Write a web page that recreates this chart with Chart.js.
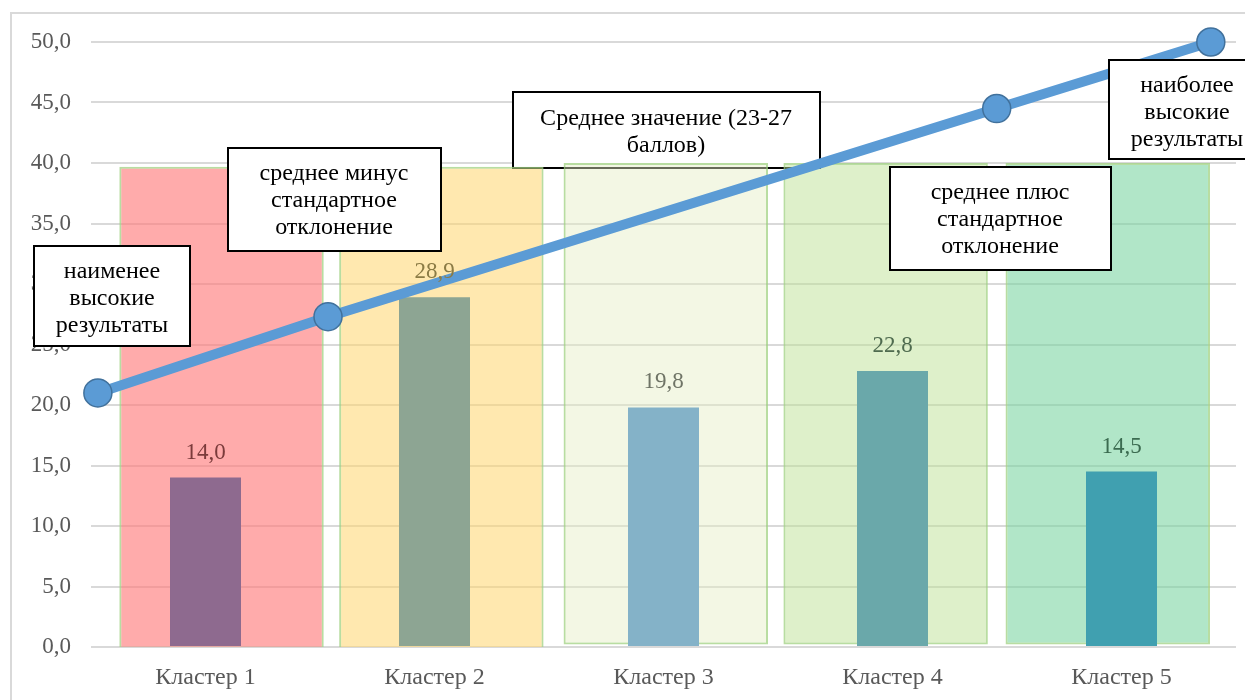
<!DOCTYPE html>
<html>
<head>
<meta charset="utf-8">
<script src="https://cdn.jsdelivr.net/npm/chart.js@4/dist/chart.umd.min.js"></script>
<style>
  html, body { margin: 0; padding: 0; background: #fff; }
  #wrap { position: relative; width: 1245px; height: 700px; }
</style>
</head>
<body>
<div id="wrap"><canvas id="c"></canvas></div>
<script>
// Категории и значения
const clusters = ['Кластер 1', 'Кластер 2', 'Кластер 3', 'Кластер 4', 'Кластер 5'];
const clusterValues = [14.0, 28.9, 19.8, 22.8, 14.5];

// фоновые прямоугольники (диапазоны по оси Y) и их центры по X (в единицах категорий)
const zoneX = [0.07, 1.03, 2.01, 2.97, 3.94];
const zoneLow = [-0.15, -0.2, 0.2, 0.2, 0.2];
const zoneHigh = [39.7, 39.7, 40.0, 40.0, 40.0];

// линия уровней
const levelX = [-0.47, 0.535, 3.455, 4.39];
const levelY = [21.0, 27.3, 44.5, 50.0];

// подписи уровней
const notes = [
  ['наименее', 'высокие', 'результаты'],
  ['среднее минус', 'стандартное', 'отклонение'],
  ['Среднее значение (23-27', 'баллов)'],
  ['среднее плюс', 'стандартное', 'отклонение'],
  ['наиболее', 'высокие', 'результаты']
];

const yTicks = [0, 5, 10, 15, 20, 25, 30, 35, 40, 45, 50];

const zoneColors = ['rgba(255,120,120,0.62)', 'rgba(255,214,110,0.55)', 'rgba(228,238,196,0.45)', 'rgba(190,226,150,0.5)', 'rgba(120,212,160,0.58)'];
const barColors = ['#8E6A8F', '#8DA593', '#84B2C8', '#6AA8AA', '#40A0B0'];
const labelColors = ['#7B3B3B', '#8B7B45', '#6F7466', '#4F6B4F', '#3B6B50'];

const serif = "'Liberation Serif', 'DejaVu Serif', serif";
const fmt = v => v.toFixed(1).replace('.', ',');

// положение рамок с подписями (пиксели)
const noteBoxes = [
  { x: 34, y: 246, w: 156, h: 100, cx: 112, lines: [272, 299, 326] },
  { x: 228, y: 148, w: 213, h: 103, cx: 334, lines: [174, 201, 228] },
  { x: 513, y: 92, w: 307, h: 76, cx: 666, lines: [119, 146], under: true },
  { x: 890, y: 167, w: 221, h: 103, cx: 1000, lines: [193, 220, 247] },
  { x: 1109, y: 60, w: 150, h: 99, cx: 1187, lines: [86, 113, 140] }
];

function drawNote(ctx, box, text) {
  ctx.save();
  ctx.fillStyle = '#fff';
  ctx.fillRect(box.x, box.y, box.w, box.h);
  ctx.lineWidth = 2;
  ctx.strokeStyle = '#000';
  ctx.strokeRect(box.x, box.y, box.w, box.h);
  ctx.fillStyle = '#000';
  ctx.font = '24px ' + serif;
  ctx.textAlign = 'center';
  ctx.textBaseline = 'middle';
  text.forEach((t, i) => ctx.fillText(t, box.cx, box.lines[i]));
  ctx.restore();
}

const overlay = {
  id: 'overlay',
  beforeDraw(chart) {
    const ctx = chart.ctx;
    ctx.save();
    ctx.strokeStyle = '#d9d9d9';
    ctx.lineWidth = 2;
    ctx.beginPath();
    ctx.moveTo(11, 700);
    ctx.lineTo(11, 13);
    ctx.lineTo(1245, 13);
    ctx.stroke();
    ctx.restore();
  },
  beforeDatasetsDraw(chart) {
    noteBoxes.forEach((b, i) => { if (b.under) drawNote(chart.ctx, b, notes[i]); });
  },
  afterDatasetsDraw(chart) {
    const ctx = chart.ctx;
    const meta = chart.getDatasetMeta(1);
    ctx.save();
    ctx.font = '23px ' + serif;
    ctx.textAlign = 'center';
    ctx.textBaseline = 'middle';
    meta.data.forEach((el, i) => {
      ctx.fillStyle = labelColors[i];
      ctx.fillText(fmt(clusterValues[i]), el.x, el.y - 25);
    });
    ctx.restore();
  },
  afterDraw(chart) {
    noteBoxes.forEach((b, i) => { if (!b.under) drawNote(chart.ctx, b, notes[i]); });
  }
};

new Chart(document.getElementById('c'), {
  type: 'bar',
  data: {
    labels: clusters,
    datasets: [
      {
        label: 'zones',
        data: zoneX.map((x, i) => ({ x: x, y: [zoneLow[i], zoneHigh[i]] })),
        xAxisID: 'xl',
        grouped: false,
        backgroundColor: zoneColors,
        borderColor: 'rgba(160,210,130,0.75)',
        borderWidth: 2,
        borderSkipped: false,
        categoryPercentage: 1,
        barPercentage: 0.93,
        order: 3
      },
      {
        label: 'values',
        data: clusterValues,
        xAxisID: 'x',
        grouped: false,
        backgroundColor: barColors,
        borderWidth: 0,
        categoryPercentage: 1,
        barPercentage: 0.31,
        order: 2
      },
      {
        type: 'line',
        label: 'levels',
        data: levelX.map((x, i) => ({ x: x, y: levelY[i] })),
        xAxisID: 'xl',
        clip: false,
        borderColor: '#5B9BD5',
        borderWidth: 10,
        pointRadius: 14,
        pointBackgroundColor: '#5B9BD5',
        pointBorderColor: '#41719C',
        pointBorderWidth: 1.5,
        tension: 0,
        order: 1
      }
    ]
  },
  options: {
    responsive: true,
    maintainAspectRatio: false,
    animation: false,
    layout: { autoPadding: false, padding: { top: 42, right: 9, left: 0, bottom: 0 } },
    plugins: { legend: { display: false }, tooltip: { enabled: false } },
    scales: {
      x: {
        type: 'category',
        offset: true,
        grid: { display: false, drawTicks: false },
        border: { display: false },
        ticks: { color: '#595959', font: { family: serif, size: 24 }, padding: 16 },
        afterFit: s => { s.height = 53; }
      },
      xl: {
        type: 'linear',
        display: false,
        min: -0.5,
        max: 4.5,
        offset: false,
        afterBuildTicks: s => { s.ticks = []; }
      },
      y: {
        min: 0,
        max: 50,
        afterBuildTicks: s => { s.ticks = yTicks.map(v => ({ value: v })); },
        grid: { color: '#d9d9d9', lineWidth: 2, drawTicks: false },
        border: { display: false },
        ticks: { color: '#595959', font: { family: serif, size: 23 }, padding: 20, callback: v => fmt(v) },
        afterFit: s => { s.width = 91; }
      }
    }
  },
  plugins: [overlay]
});
</script>
</body>
</html>
